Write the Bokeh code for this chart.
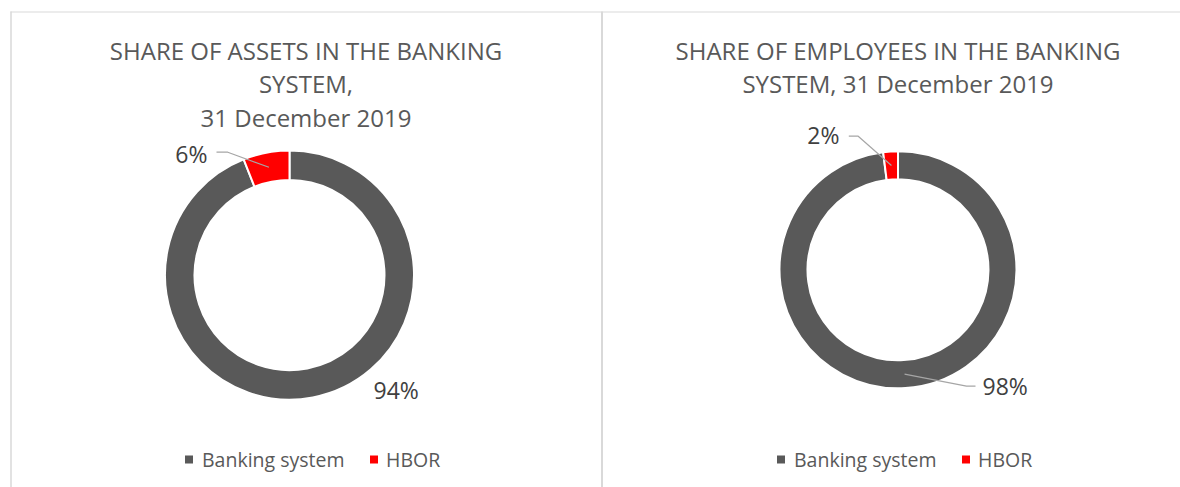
import math
from bokeh.plotting import figure
from bokeh.models import Range1d
from bokeh.core.properties import value
from bokeh.embed import file_html
from bokeh.resources import INLINE

# ---------------- data ----------------
categories = ["Banking system", "HBOR"]
assets_share = [94, 6]          # % of assets, 31 Dec 2019
employees_share = [98, 2]       # % of employees, 31 Dec 2019
slice_colors = ["#595959", "#ff0000"]
title_assets = ["SHARE OF ASSETS IN THE BANKING", "SYSTEM,", "31 December 2019"]
title_employees = ["SHARE OF EMPLOYEES IN THE BANKING", "SYSTEM, 31 December 2019"]

# ---------------- layout (reference pixel coordinates) ----------------
W, H = 1180, 487
FONT = value("Open Sans")
DESC = 0.30   # descent correction (fraction of font size)


def fy(Y):
    return H - Y


def fyt(Yb, fs):
    # y for a text whose alphabetic baseline should land at Yb
    return fy(Yb - DESC * fs)


p = figure(width=W, height=H, x_range=Range1d(0, W), y_range=Range1d(0, H),
           output_backend="svg", toolbar_location=None,
           x_axis_location=None, y_axis_location=None, min_border=0)
p.grid.visible = False
p.outline_line_color = None
p.background_fill_color = "white"
p.border_fill_color = "white"

# frame lines of the two chart boxes
frame = "#d9d9d9"
p.segment(x0=[10, 10.5, 601.5], y0=[fy(11.5), fy(11), fy(11)],
          x1=[1180, 10.5, 601.5], y1=[fy(11.5), fy(487), fy(487)],
          line_color=frame, line_width=[1, 1.5, 2])

panels = [
    dict(values=assets_share, title=title_assets, pcx=305.5, cx=289.0, cy=274.6,
         r_out=124.5, r_in=95.0,
         labels=[dict(side="left_none", pos=(373, 396.5)),
                 dict(side="right", pos=(207, 160), stub=(216, 227.3, 151.7))]),
    dict(values=employees_share, title=title_employees, pcx=897.5, cx=897.5, cy=269.3,
         r_out=118.5, r_in=90.5,
         labels=[dict(side="left", pos=(982, 392), stub=(975, 966, 385.7)),
                 dict(side="right", pos=(839, 141.5), stub=(848.3, 857.7, 135.7))]),
]

TFS, LFS, GFS = 24, 23, 19.5

for pan in panels:
    vals = pan["values"]
    total = float(sum(vals))
    cum = 0.0
    starts, ends, mids = [], [], []
    for v in vals:
        a_before = math.pi / 2 - 2 * math.pi * cum / total
        cum += v
        a_after = math.pi / 2 - 2 * math.pi * cum / total
        starts.append(a_after)
        ends.append(a_before)
        mids.append((a_after + a_before) / 2)
    n = len(vals)
    p.annular_wedge(x=[pan["cx"]] * n, y=[fy(pan["cy"])] * n,
                    inner_radius=pan["r_in"], outer_radius=pan["r_out"],
                    start_angle=starts, end_angle=ends, direction="anticlock",
                    fill_color=slice_colors, line_color="white", line_width=2)

    # titles
    for i, line in enumerate(pan["title"]):
        p.text(x=[pan["pcx"]], y=[fyt(57.3 + 33.3 * i, TFS)], text=[line],
               text_font=FONT, text_font_size=f"{TFS}px", text_color="#595959",
               text_align="center", text_baseline="alphabetic")

    # data labels with leader lines
    rmid = (pan["r_in"] + pan["r_out"]) / 2
    for v, m, lab in zip(vals, mids, pan["labels"]):
        tx, tyb = lab["pos"]
        align = "right" if lab["side"] == "right" else "left"
        p.text(x=[tx], y=[fyt(tyb, LFS)], text=[f"{v}%"], text_font=FONT,
               text_font_size=f"{LFS}px", text_color="#404040",
               text_align=align, text_baseline="alphabetic")
        if "stub" in lab:
            s0, s1, sy = lab["stub"]
            ex = pan["cx"] + rmid * math.cos(m)
            ey = fy(pan["cy"]) + rmid * math.sin(m)
            p.line(x=[s0, s1, ex], y=[fy(sy), fy(sy), ey],
                   line_color="#a6a6a6", line_width=1.2)

    # legend
    pcx = pan["pcx"]
    sq_x = [pcx - 117, pcx + 68]
    tx_x = [pcx - 104, pcx + 80]
    p.scatter(x=sq_x, y=[fy(459)] * 2, marker="square", size=8,
              fill_color=slice_colors, line_color=None)
    p.text(x=tx_x, y=[fyt(464.5, GFS)] * 2, text=categories, text_font=FONT,
           text_font_size=f"{GFS}px", text_color="#595959",
           text_align="left", text_baseline="alphabetic")

open("out.html", "w").write(file_html(p, INLINE))
